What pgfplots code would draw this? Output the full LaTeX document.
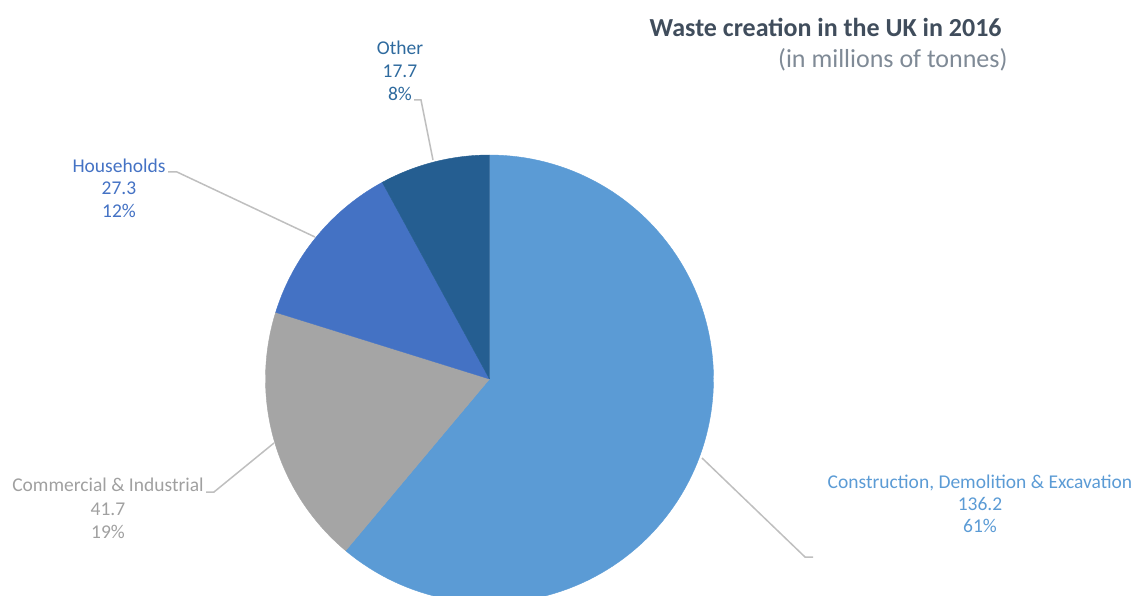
\documentclass[border=0pt]{standalone}
\usepackage{pgfplots}
\pgfplotsset{compat=1.18}
\usepackage{pgfplotstable}
\usepackage{fontspec}
\setmainfont{Carlito}
\definecolor{cde}{HTML}{5B9BD5}
\definecolor{ci}{HTML}{A5A5A5}
\definecolor{hh}{HTML}{4472C4}
\definecolor{oth}{HTML}{255E91}
\definecolor{othtxt}{HTML}{2E6A9E}
\definecolor{citxt}{HTML}{A0A0A0}
\definecolor{lead}{HTML}{BFBFBF}
\definecolor{ttl}{HTML}{404D5C}
\definecolor{sub}{HTML}{7F8A96}

\pgfplotstableread{
label value
CDE 136.2
CI 41.7
HH 27.3
Other 17.7
}\wastedata

\pgfplotstablegetelem{0}{value}\of\wastedata \let\va\pgfplotsretval
\pgfplotstablegetelem{1}{value}\of\wastedata \let\vb\pgfplotsretval
\pgfplotstablegetelem{2}{value}\of\wastedata \let\vc\pgfplotsretval
\pgfplotstablegetelem{3}{value}\of\wastedata \let\vd\pgfplotsretval
\pgfmathsetmacro{\total}{\va+\vb+\vc+\vd}
\pgfmathsetmacro{\angA}{90}
\pgfmathsetmacro{\angB}{\angA-360*(\va/\total)}
\pgfmathsetmacro{\angC}{\angB-360*(\vb/\total)}
\pgfmathsetmacro{\angD}{\angC-360*(\vc/\total)}
\pgfmathsetmacro{\angE}{\angD-360*(\vd/\total)}

\def\cx{489.5}
\def\cy{216}
\def\R{224}
% slice from angle #1 to angle #2, colour #3
\newcommand{\pieslice}[3]{%
\addplot[fill=#3, draw=#3, line width=0.2pt, domain=0:122, samples=123, variable=\t]
 ({\cx + ifthenelse(or(\t<0.5,\t>121.5),0,\R)*cos((#1) + ((#2)-(#1))*min(max(\t-1,0),120)/120)},
  {\cy + ifthenelse(or(\t<0.5,\t>121.5),0,\R)*sin((#1) + ((#2)-(#1))*min(max(\t-1,0),120)/120)});
}

\begin{document}
\begin{tikzpicture}
\useasboundingbox (0,0) rectangle (570pt,297.5pt);
\begin{axis}[
  at={(0,0)}, anchor=south west,
  scale only axis, width=570pt, height=297.5pt,
  xmin=0, xmax=1140, ymin=0, ymax=595,
  hide axis, clip=true,
]
\pieslice{\angA}{\angB}{cde}
\pieslice{\angB}{\angC}{ci}
\pieslice{\angC}{\angD}{hh}
\pieslice{\angD}{\angE}{oth}

% leader lines
\addplot[lead, line width=0.75pt] coordinates {(414,495) (421,495) (433,435)};
\addplot[lead, line width=0.75pt] coordinates {(168,423) (177,423) (315,358)};
\addplot[lead, line width=0.75pt] coordinates {(206,103) (214,103) (274,152)};
\addplot[lead, line width=0.75pt] coordinates {(702,137) (805,38) (813,38)};

% labels
\begin{scope}[every node/.style={anchor=base, inner sep=0pt, font=\fontsize{9.75pt}{11pt}\selectfont}]
\node[text=othtxt] at (axis cs:400,540) {Other};
\node[text=othtxt] at (axis cs:400,517) {17.7};
\node[text=othtxt] at (axis cs:400,494) {8\%};
\node[text=hh] at (axis cs:119,422) {Households};
\node[text=hh] at (axis cs:119,400) {27.3};
\node[text=hh] at (axis cs:119,377) {12\%};
\node[text=citxt] at (axis cs:108,104) {Commercial \& Industrial};
\node[text=citxt] at (axis cs:108,80) {41.7};
\node[text=citxt] at (axis cs:108,57) {19\%};
\node[text=cde] at (axis cs:980,107) {Construction, Demolition \& Excavation};
\node[text=cde] at (axis cs:980,85) {136.2};
\node[text=cde] at (axis cs:980,63) {61\%};
\end{scope}

\node[anchor=base east, inner sep=0pt, text=ttl, font=\fontsize{13pt}{15pt}\selectfont\bfseries] at (axis cs:1002,558.5) {Waste creation in the UK in 2016};
\node[anchor=base east, inner sep=0pt, text=sub, font=\fontsize{13pt}{15pt}\selectfont] at (axis cs:1008,527) {(in millions of tonnes)};
\end{axis}
\end{tikzpicture}
\end{document}
